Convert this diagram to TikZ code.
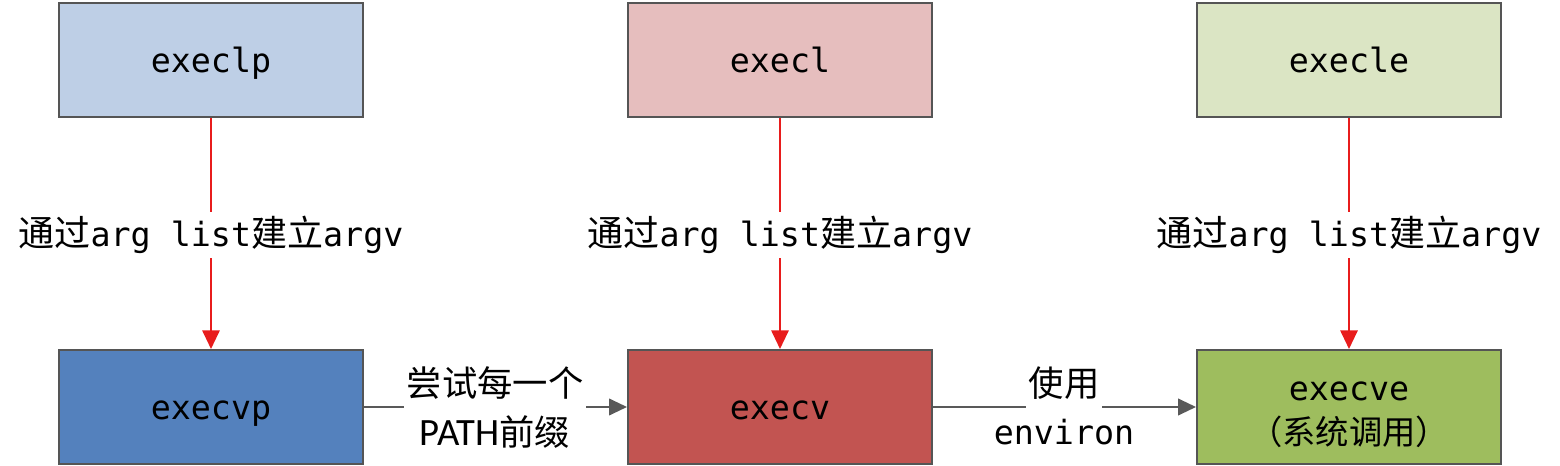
\documentclass[tikz,border=0pt]{standalone}
\usepackage{fontspec}
\usepackage{xcolor}
\usetikzlibrary{arrows.meta}
\newfontfamily\monofont{DejaVu Sans Mono}
\newfontfamily\cjk{Noto Sans CJK SC}
\newfontfamily\sansfnt{Carlito}
\newcommand{\zh}[1]{{\fontsize{27}{33}\selectfont\cjk #1}}

\begin{document}
\begin{tikzpicture}[x=0.75pt,y=0.75pt,yscale=-1,xscale=1,
  box/.style={draw={rgb, 255:red, 85; green, 85; blue, 85}, line width=1.5, minimum width=228pt, minimum height=85.5pt, inner sep=0pt, align=center, text height=23pt, text depth=3.5pt, font=\fontsize{25}{33}\selectfont\monofont},
  redarrow/.style={color={rgb, 255:red, 232; green, 28; blue, 28}, line width=1.5, -{Triangle[length=14pt,width=13pt]}},
  grayarrow/.style={color={rgb, 255:red, 89; green, 89; blue, 89}, line width=1.5, -{Triangle[length=13.5pt,width=12.5pt]}},
  lab/.style={font=\fontsize{25}{33}\selectfont\monofont, inner xsep=2pt, inner ysep=0pt}]
\useasboundingbox (0,0) rectangle (1560,466);

%Shape: Rectangle [execlp] 
\node (execlp) at (211,60) [box, fill={rgb, 255:red, 190; green, 207; blue, 230}] {execlp};
%Shape: Rectangle [execl] 
\node (execl) at (780,60) [box, fill={rgb, 255:red, 230; green, 190; blue, 190}] {execl};
%Shape: Rectangle [execle] 
\node (execle) at (1349,60) [box, fill={rgb, 255:red, 219; green, 229; blue, 196}] {execle};
%Shape: Rectangle [execvp] 
\node (execvp) at (211,407) [box, fill={rgb, 255:red, 84; green, 129; blue, 189}] {execvp};
%Shape: Rectangle [execv] 
\node (execv) at (780,407) [box, fill={rgb, 255:red, 194; green, 84; blue, 81}] {execv};
%Shape: Rectangle [execve] 
\node (execve) at (1349,407) [box, text height=71pt, text depth=14pt, fill={rgb, 255:red, 158; green, 189; blue, 94}] {execve\\{\cjk （系统调用）}};

%Straight Lines [red] 
\draw [redarrow] (execlp) -- (execvp);
\draw [redarrow] (execl) -- (execv);
\draw [redarrow] (execle) -- (execve);
%Straight Lines [gray] 
\draw [grayarrow] (execvp) -- (execv);
\draw [grayarrow] (execv) -- (execve);

% Text Node
\node (listp) at (211,235) [lab, fill=white, minimum height=34pt] {\zh{通过}arg list\zh{建立}argv};
% Text Node
\node (listl) at (780,235) [lab, fill=white, minimum height=34pt] {\zh{通过}arg list\zh{建立}argv};
% Text Node
\node (liste) at (1349,235) [lab, fill=white, minimum height=34pt] {\zh{通过}arg list\zh{建立}argv};
% Text Node
\node (try) at (495,383) [lab, fill=white, minimum height=38pt, font=\fontsize{26.5}{33}\selectfont\cjk] {尝试每一个};
% Text Node
\node (prefix) at (495,432) [lab, font=\fontsize{26.5}{33}\selectfont\cjk] {{\fontsize{29}{33}\selectfont\sansfnt PATH}前缀};
% Text Node
\node (use) at (1064,383) [lab, fill=white, minimum height=38pt, font=\fontsize{26.5}{33}\selectfont\cjk] {使用};
% Text Node
\node (env) at (1064,432) [lab] {environ};

\end{tikzpicture}
\end{document}
